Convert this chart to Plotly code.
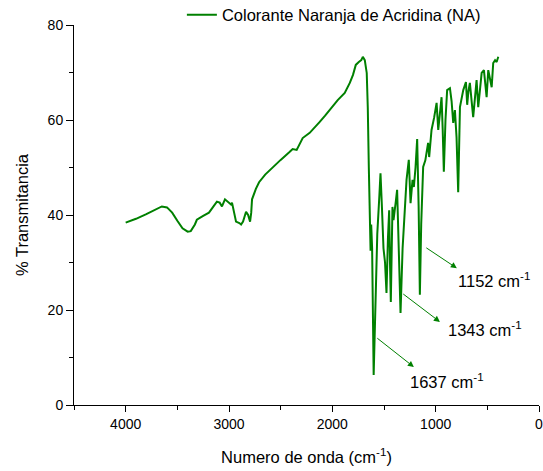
import plotly.graph_objects as go

# Wavenumber (cm-1) and % transmittance
wavenumber = [4000, 3900, 3800, 3700, 3650, 3600, 3550, 3500, 3450, 3400, 3370, 3330, 3311,
              3250, 3194, 3150, 3117, 3090, 3068, 3039, 3010, 2981, 2971, 2950, 2932, 2900,
              2883, 2864, 2850, 2835, 2815, 2796, 2785, 2777, 2740, 2709, 2650, 2580, 2500,
              2417, 2384, 2345, 2287, 2219, 2170, 2122, 2070, 2025, 1948, 1880, 1831, 1800,
              1773, 1744, 1720, 1705, 1686, 1667, 1657, 1647, 1638, 1630, 1624, 1615, 1600,
              1585, 1565, 1545, 1534, 1520, 1505, 1490, 1476, 1462, 1450, 1442, 1434, 1425,
              1418, 1408, 1398, 1385, 1373, 1358, 1340, 1320, 1300, 1282, 1260, 1243, 1224,
              1211, 1195, 1179, 1165, 1153, 1140, 1121, 1100, 1085, 1073, 1063, 1040, 1015,
              991, 975, 958, 943, 932, 921, 905, 889, 862, 846, 830, 814, 798, 782, 765,
              750, 733, 707, 695, 683, 669, 637, 620, 604, 588, 570, 555, 533, 507, 491,
              475, 458, 443, 425, 410, 394]
transmittance = [38.4, 39.2, 40.2, 41.3, 41.8, 41.6, 40.5, 38.8, 37.2, 36.5, 36.6, 38.0, 39.0,
                 39.8, 40.5, 41.8, 42.8, 42.6, 41.8, 43.3, 42.8, 42.2, 42.6, 40.5, 38.6, 38.3,
                 38.0, 38.6, 39.5, 40.7, 40.0, 38.6, 40.5, 43.3, 45.5, 46.9, 48.5, 50.0, 51.6,
                 53.2, 53.9, 53.7, 56.2, 57.3, 58.4, 59.6, 60.9, 62.1, 64.2, 65.7, 67.8, 69.5,
                 71.6, 72.2, 72.6, 73.3, 72.6, 69.9, 62.7, 50.1, 38.3, 32.5, 38.0, 33.0, 6.3,
                 22.0, 36.0, 44.0, 48.8, 41.7, 33.0, 30.0, 23.6, 35.0, 41.0, 30.0, 21.7, 33.0,
                 41.7, 38.9, 41.5, 43.0, 45.3, 35.0, 19.4, 33.0, 42.0, 47.4, 51.6, 42.5, 47.4,
                 45.9, 50.0, 56.0, 42.0, 23.2, 38.0, 50.1, 51.5, 53.5, 55.2, 52.2, 57.9, 60.5,
                 63.6, 57.9, 62.0, 64.8, 58.0, 49.1, 60.0, 66.3, 66.7, 64.0, 59.4, 62.1, 56.4,
                 44.8, 62.7, 64.5, 66.3, 68.0, 63.2, 66.0, 67.8, 60.6, 65.0, 68.4, 62.7, 67.0,
                 69.9, 70.5, 64.8, 70.5, 68.5, 66.9, 72.0, 72.6, 72.2, 73.3]

series_name = "Colorante Naranja de Acridina (NA)"
x_ticks = [4000, 3000, 2000, 1000, 0]
y_ticks = [0, 20, 40, 60, 80]

# Peak labels: text, arrow tail (on spectrum), arrow head, text anchor
peak_labels = ["1152 cm<sup>-1</sup>", "1343 cm<sup>-1</sup>", "1637 cm<sup>-1</sup>"]
arrow_tail = [(1105, 33.3), (1328, 23.6), (1579, 14.3)]
arrow_head = [(795, 28.8), (959, 17.5), (1211, 8.0)]
label_pos = [(800, 26.4), (900, 15.9), (1268, 5.0)]

GREEN = "#008000"
FONT = "Liberation Sans, Arial, sans-serif"

fig = go.Figure()
fig.add_trace(go.Scatter(x=wavenumber, y=transmittance, mode="lines", name=series_name,
                         line=dict(color=GREEN, width=2), showlegend=True))

annotations = []
for txt, (tx, ty), (hx, hy), (lx, ly) in zip(peak_labels, arrow_tail, arrow_head, label_pos):
    annotations.append(dict(x=hx, y=hy, ax=tx, ay=ty, xref="x", yref="y", axref="x", ayref="y",
                            text="", showarrow=True, arrowhead=2, arrowsize=1.2, arrowwidth=1,
                            arrowcolor=GREEN, standoff=0, startstandoff=0))
    annotations.append(dict(x=lx, y=ly, xref="x", yref="y", text=txt, showarrow=False,
                            xanchor="left", yanchor="middle",
                            font=dict(size=16.5, color="black", family=FONT)))

fig.update_layout(
    width=543, height=471,
    margin=dict(l=74, r=4, t=25, b=66, autoexpand=False),
    paper_bgcolor="white", plot_bgcolor="white",
    font=dict(family=FONT, color="black", size=14),
    showlegend=True,
    legend=dict(x=0.232, y=1.026, xanchor="left", yanchor="middle", bgcolor="rgba(0,0,0,0)",
                font=dict(size=16.5, family=FONT, color="black"), borderwidth=0,
                tracegroupgap=0, itemwidth=30),
    annotations=annotations,
    xaxis=dict(range=[4500, 0], tickvals=x_ticks, ticks="outside", ticklen=6, tickwidth=1,
               tickcolor="black", showline=True, linecolor="black", linewidth=1,
               showgrid=False, zeroline=False, tickfont=dict(size=14), ticklabeloverflow="allow",
               minor=dict(dtick=500, ticks="outside", ticklen=4, tickcolor="black", showgrid=False),
               title=dict(text="Numero de onda (cm<sup>-1</sup>)", font=dict(size=16.5), standoff=20)),
    yaxis=dict(range=[0, 80], tickvals=y_ticks, ticks="outside", ticklen=7, tickwidth=1,
               tickcolor="black", showline=True, linecolor="black", linewidth=1,
               showgrid=False, zeroline=False, tickfont=dict(size=14), ticklabeloverflow="allow",
               minor=dict(dtick=10, ticks="outside", ticklen=4, tickcolor="black", showgrid=False),
               title=dict(text="% Transmitancia", font=dict(size=16.5), standoff=14)),
)

fig.write_html("out.html", config={"displayModeBar": False},
               post_script="document.body.style.margin='0';")
